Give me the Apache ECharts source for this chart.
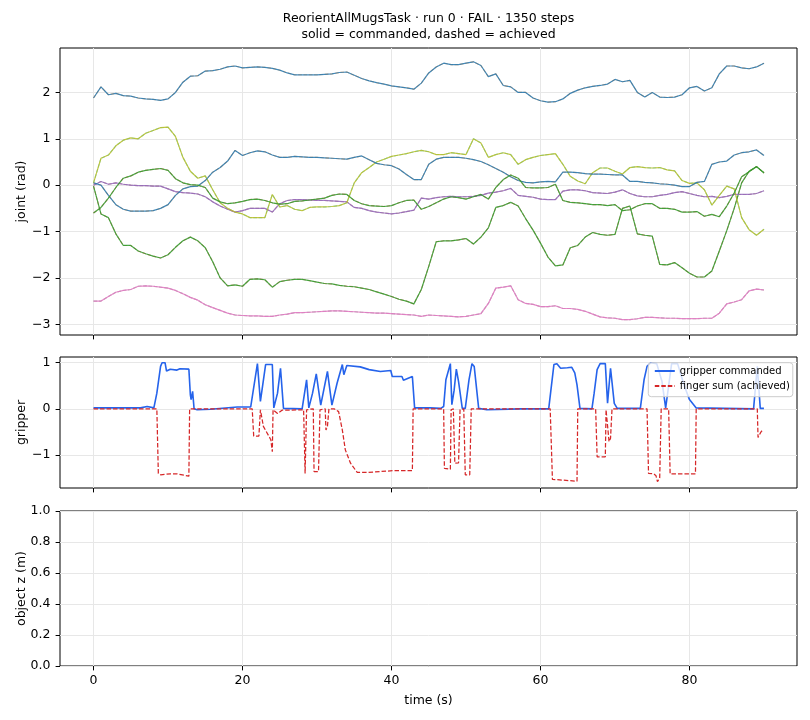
<!DOCTYPE html>
<html><head><meta charset="utf-8">
<script src="https://cdn.jsdelivr.net/npm/echarts@6/dist/echarts.min.js"></script>
<style>html,body{margin:0;padding:0;background:#fff}#c{width:810px;height:720px}</style>
</head><body><div id="c"></div><script>
// ---- data ----
const time = [0,1,2,3,4,5,6,7,8,9,10,11,12,13,14,15,16,17,18,19,20,21,22,23,24,25,26,27,28,29,30,31,32,33,34,35,36,37,38,39,40,41,42,43,44,45,46,47,48,49,50,51,52,53,54,55,56,57,58,59,60,61,62,63,64,65,66,67,68,69,70,71,72,73,74,75,76,77,78,79,80,81,82,83,84,85,86,87,88,89,90];
const joint0 = [1.88,2.12,1.95,1.98,1.93,1.92,1.88,1.86,1.85,1.83,1.86,2.0,2.22,2.35,2.36,2.46,2.47,2.5,2.55,2.57,2.53,2.54,2.55,2.54,2.52,2.48,2.42,2.38,2.38,2.38,2.38,2.39,2.4,2.43,2.44,2.37,2.3,2.25,2.21,2.18,2.14,2.12,2.1,2.07,2.2,2.42,2.55,2.63,2.6,2.6,2.63,2.66,2.58,2.34,2.4,2.15,2.12,2.0,2.0,1.88,1.82,1.79,1.8,1.86,1.98,2.05,2.1,2.13,2.15,2.18,2.28,2.23,2.26,2.0,1.9,2.0,1.9,1.89,1.9,1.95,2.1,2.13,2.03,2.1,2.4,2.57,2.57,2.53,2.51,2.55,2.63];
const joint1 = [-0.02,-0.62,-0.7,-1.05,-1.3,-1.3,-1.42,-1.48,-1.53,-1.57,-1.5,-1.34,-1.2,-1.12,-1.2,-1.35,-1.65,-2.0,-2.17,-2.15,-2.18,-2.03,-2.02,-2.04,-2.2,-2.08,-2.05,-2.03,-2.03,-2.06,-2.09,-2.12,-2.13,-2.16,-2.18,-2.19,-2.22,-2.25,-2.3,-2.35,-2.4,-2.46,-2.5,-2.56,-2.25,-1.75,-1.22,-1.2,-1.2,-1.18,-1.15,-1.27,-1.12,-0.92,-0.48,-0.44,-0.37,-0.45,-0.72,-0.97,-1.25,-1.55,-1.74,-1.72,-1.35,-1.3,-1.12,-1.02,-1.06,-1.08,-1.06,-0.5,-0.45,-1.05,-1.08,-1.1,-1.71,-1.72,-1.67,-1.78,-1.9,-1.98,-1.98,-1.85,-1.42,-0.98,-0.5,0.05,0.3,0.4,0.27];
const joint2 = [0.0,0.08,0.02,0.05,0.02,0.0,-0.01,-0.01,-0.02,-0.02,-0.08,-0.14,-0.16,-0.17,-0.19,-0.25,-0.36,-0.45,-0.52,-0.58,-0.55,-0.5,-0.5,-0.5,-0.58,-0.4,-0.33,-0.31,-0.31,-0.32,-0.33,-0.33,-0.34,-0.35,-0.36,-0.48,-0.5,-0.55,-0.58,-0.6,-0.62,-0.6,-0.57,-0.54,-0.28,-0.3,-0.27,-0.25,-0.24,-0.25,-0.25,-0.24,-0.22,-0.17,-0.15,-0.12,-0.07,-0.22,-0.24,-0.26,-0.3,-0.31,-0.31,-0.13,-0.1,-0.1,-0.12,-0.16,-0.17,-0.18,-0.15,-0.1,-0.18,-0.23,-0.25,-0.25,-0.22,-0.2,-0.16,-0.14,-0.18,-0.22,-0.25,-0.24,-0.27,-0.24,-0.2,-0.2,-0.2,-0.18,-0.12];
const joint3 = [-2.5,-2.5,-2.4,-2.31,-2.27,-2.25,-2.18,-2.17,-2.18,-2.2,-2.22,-2.27,-2.34,-2.42,-2.48,-2.58,-2.64,-2.7,-2.76,-2.8,-2.81,-2.82,-2.82,-2.83,-2.83,-2.8,-2.78,-2.75,-2.75,-2.74,-2.73,-2.72,-2.71,-2.71,-2.72,-2.73,-2.74,-2.75,-2.76,-2.76,-2.77,-2.78,-2.79,-2.8,-2.83,-2.8,-2.81,-2.82,-2.83,-2.84,-2.83,-2.8,-2.77,-2.55,-2.22,-2.2,-2.17,-2.47,-2.55,-2.57,-2.62,-2.62,-2.6,-2.66,-2.66,-2.68,-2.72,-2.78,-2.84,-2.86,-2.87,-2.9,-2.9,-2.88,-2.85,-2.85,-2.86,-2.87,-2.87,-2.88,-2.88,-2.88,-2.87,-2.87,-2.76,-2.56,-2.52,-2.47,-2.28,-2.24,-2.26];
const joint4 = [0.05,0.58,0.65,0.85,0.97,1.02,1.0,1.12,1.18,1.24,1.25,1.05,0.6,0.3,0.15,0.2,-0.1,-0.38,-0.5,-0.58,-0.62,-0.7,-0.7,-0.7,-0.2,-0.47,-0.44,-0.52,-0.55,-0.48,-0.47,-0.47,-0.46,-0.44,-0.38,0.05,0.27,0.38,0.5,0.56,0.62,0.65,0.68,0.72,0.75,0.72,0.66,0.66,0.7,0.68,0.66,1.0,0.91,0.6,0.66,0.7,0.66,0.45,0.55,0.6,0.64,0.66,0.68,0.45,0.19,0.09,0.03,0.27,0.37,0.37,0.3,0.24,0.38,0.4,0.38,0.37,0.38,0.33,0.31,0.1,0.04,0.05,-0.1,-0.43,-0.22,-0.02,-0.08,-0.7,-0.96,-1.08,-0.95];
const joint5 = [0.05,0.0,-0.22,-0.42,-0.52,-0.56,-0.56,-0.56,-0.55,-0.5,-0.42,-0.22,-0.08,-0.03,-0.02,0.1,0.28,0.38,0.52,0.75,0.64,0.7,0.74,0.72,0.65,0.6,0.6,0.62,0.61,0.6,0.6,0.59,0.58,0.57,0.56,0.6,0.63,0.55,0.47,0.44,0.42,0.35,0.23,0.12,0.12,0.45,0.56,0.6,0.6,0.6,0.58,0.55,0.51,0.44,0.36,0.28,0.18,0.1,0.06,0.05,0.07,0.08,0.07,0.28,0.28,0.27,0.25,0.24,0.24,0.23,0.22,0.22,0.08,0.08,0.06,0.05,0.03,0.02,0.0,-0.03,-0.03,0.06,0.08,0.45,0.5,0.52,0.65,0.7,0.72,0.76,0.64];
const joint6 = [-0.6,-0.48,-0.28,-0.05,0.15,0.2,0.28,0.32,0.34,0.36,0.32,0.14,0.05,0.01,0.0,-0.05,-0.28,-0.36,-0.4,-0.38,-0.35,-0.31,-0.3,-0.33,-0.38,-0.41,-0.4,-0.35,-0.34,-0.32,-0.3,-0.28,-0.22,-0.19,-0.2,-0.33,-0.4,-0.44,-0.45,-0.46,-0.44,-0.38,-0.33,-0.32,-0.52,-0.46,-0.38,-0.3,-0.25,-0.27,-0.3,-0.25,-0.2,-0.3,-0.05,0.12,0.22,0.15,-0.05,-0.06,-0.06,-0.05,0.02,-0.33,-0.37,-0.38,-0.4,-0.42,-0.42,-0.44,-0.42,-0.55,-0.53,-0.45,-0.4,-0.4,-0.5,-0.5,-0.52,-0.58,-0.58,-0.57,-0.67,-0.63,-0.68,-0.45,-0.17,0.18,0.29,0.4,0.26];

const gripT   = [0,6.3,7.2,8.1,8.5,9.0,9.2,9.6,9.8,10.3,11.2,11.6,12.8,13.0,13.1,13.3,13.5,13.9,15.7,19.3,21.1,21.3,22.0,22.4,23.1,24.0,24.2,24.7,25.1,25.5,28.0,28.6,28.9,29.4,29.9,30.5,31.4,32.0,32.7,33.4,33.6,34.0,35.8,37.0,38.5,39.9,40.1,41.4,41.6,42.8,43.1,45.2,46.6,47.0,47.3,47.5,47.9,48.1,48.4,48.7,49.0,49.5,49.9,50.4,50.8,51.1,51.7,52.8,57.3,61.1,61.8,62.2,62.7,63.6,64.2,64.6,64.9,65.3,66.9,67.2,67.6,68.0,68.7,69.0,69.4,69.9,70.3,73.4,73.9,74.3,74.8,75.6,76.3,76.8,77.2,77.6,78.4,79.3,80.0,80.9,88.6,89.1,89.5,89.99];
const gripCmd = [0.02,0.02,0.05,0.02,0.34,0.92,1.0,1.0,0.82,0.86,0.84,0.87,0.86,0.3,0.2,0.38,0.0,-0.02,-0.01,0.04,0.04,0.01,0.98,0.16,0.96,0.96,0.02,0.34,0.88,0.01,0.0,0.63,0.02,0.34,0.76,0.08,0.81,0.08,0.56,0.96,0.74,0.94,0.91,0.85,0.81,0.83,0.7,0.7,0.62,0.7,0.02,0.02,0.01,0.05,0.63,0.67,0.98,0.09,0.4,0.86,0.59,0.01,0.01,0.63,0.98,0.92,0.01,-0.02,0.0,0.0,0.96,0.98,0.88,0.89,0.9,0.78,0.52,0.01,0.0,0.34,0.85,0.98,0.98,0.12,0.88,0.12,0.01,0.01,0.63,0.92,1.0,0.98,0.6,0.02,0.5,0.98,0.98,0.5,0.2,0.02,0.0,0.92,0.01,0.01];
const fingerT   = [0,8.5,8.7,9.0,10.3,11.2,12.8,12.9,21.3,21.4,21.5,22.2,22.4,22.6,22.8,23.8,24.0,24.1,24.7,25.3,28.2,28.4,28.6,29.5,29.6,30.2,30.4,31.1,31.2,31.4,31.6,32.3,32.9,33.4,33.8,34.5,35.4,36.7,38.5,40.3,42.8,42.9,47.0,47.1,47.9,48.0,48.3,48.5,49.0,49.2,49.7,49.9,50.5,50.7,61.3,61.6,64.9,65.0,67.4,67.6,68.7,68.8,69.2,69.4,69.6,74.3,74.5,75.2,75.5,75.7,76.0,76.2,77.2,77.4,80.8,80.9,89.1,89.2,89.6,89.9];
const fingerSum = [0,0,-1.4,-1.43,-1.41,-1.41,-1.46,0,0,-0.02,-0.59,-0.59,-0.02,0,-0.38,-0.67,-0.93,-0.02,-0.1,-0.03,-0.02,-1.4,-0.02,0,-1.36,-1.36,-0.02,0,-0.46,-0.38,0,0,-0.06,-0.46,-0.89,-1.18,-1.38,-1.38,-1.36,-1.34,-1.34,0,0,-1.29,-1.31,-0.02,0,-1.18,-1.17,-0.02,0,-1.43,-1.43,0,0,-1.53,-1.57,0,0,-1.04,-1.04,-0.02,-0.71,-0.64,0,0,-1.4,-1.41,-1.45,-1.58,-1.5,0,0,-1.41,-1.41,0,0,-0.62,-0.5,-0.45];

const xTicks = [0,20,40,60,80];
const jointTicks = [-3,-2,-1,0,1,2];
const gripTicks = [-1,0,1];
const zTicks = [0,0.2,0.4,0.6,0.8,1.0];

// ---- styles ----
const FONT = 'DejaVu Sans';
const cmdColors = ['#1f77b4','#2ca02c','#9467bd','#e377c2','#bcbd22','#1f77b4','#2ca02c'];
const achColors = ['#ff7f0e','#d62728','#8c564b','#7f7f7f','#17becf','#ff7f0e','#d62728'];
const joints = [joint0, joint1, joint2, joint3, joint4, joint5, joint6];
const minus = v => String(v).replace('-', '\u2212');

function xAx(gi, showLabels, name) {
  return {
    type: 'value', gridIndex: gi, min: -4.5, max: 94.43,
    axisLine: { show: false, onZero: false },
    axisTick: { show: true, inside: false, length: 4.4, customValues: xTicks, lineStyle: { color: '#000', width: 1 } },
    axisLabel: { show: showLabels, customValues: xTicks, fontSize: 12.5, fontFamily: FONT, color: '#000', margin: 8.5, formatter: minus },
    splitLine: { show: true, lineStyle: { color: '#e7e7e7', width: 1 } },
    name: name || '', nameLocation: 'middle', nameGap: 28, nameMoveOverlap: false,
    nameTextStyle: { fontSize: 12.5, fontFamily: FONT, color: '#000' }
  };
}
function yAx(gi, min, max, ticks, name, fmt) {
  return {
    type: 'value', gridIndex: gi, min: min, max: max,
    axisLine: { show: false, onZero: false },
    axisTick: { show: true, inside: false, length: 4.4, customValues: ticks, lineStyle: { color: '#000', width: 1 } },
    axisLabel: { customValues: ticks, fontSize: 12.5, fontFamily: FONT, color: '#000', margin: 9.5, formatter: fmt || minus },
    splitLine: { show: true, lineStyle: { color: '#e7e7e7', width: 1 } },
    name: name, nameLocation: 'middle', nameGap: 32, nameMoveOverlap: false,
    nameTextStyle: { fontSize: 12.5, fontFamily: FONT, color: '#000' }
  };
}

const series = [];
// achieved (dashed) first, commanded (solid) on top
joints.forEach((vals, j) => {
  series.push({ type: 'line', name: 'joint' + j + ' ach', xAxisIndex: 0, yAxisIndex: 0, symbol: 'none',
    data: time.map((t, i) => [t, vals[i]]),
    lineStyle: { color: achColors[j], width: 1.1, type: [3.7, 1.6], opacity: 0.6 }, itemStyle: { color: achColors[j] } });
});
joints.forEach((vals, j) => {
  series.push({ type: 'line', name: 'joint' + j + ' cmd', xAxisIndex: 0, yAxisIndex: 0, symbol: 'none',
    data: time.map((t, i) => [t, vals[i]]),
    lineStyle: { color: cmdColors[j], width: 1.2, opacity: 0.85 }, itemStyle: { color: cmdColors[j] } });
});
series.push({ type: 'line', name: 'gripper commanded', xAxisIndex: 1, yAxisIndex: 1, symbol: 'none',
  data: gripT.map((t, i) => [t, gripCmd[i]]),
  lineStyle: { color: '#2563eb', width: 1.6 }, itemStyle: { color: '#2563eb' } });
series.push({ type: 'line', name: 'finger sum (achieved)', xAxisIndex: 1, yAxisIndex: 1, symbol: 'none',
  data: fingerT.map((t, i) => [t, fingerSum[i]]),
  lineStyle: { color: '#d62728', width: 1.25, type: [4.5, 2] }, itemStyle: { color: '#d62728' } });
series.push({ type: 'line', name: 'object z', xAxisIndex: 2, yAxisIndex: 2, data: [], symbol: 'none' });

const chart = echarts.init(document.getElementById('c'), null, { renderer: 'canvas' });
chart.setOption({
  animation: false,
  backgroundColor: '#fff',
  grid: [
    { left: 60, top: 48, width: 737, height: 287, show: true, borderColor: '#000', borderWidth: 1, backgroundColor: 'transparent' },
    { left: 60, top: 357, width: 737, height: 131, show: true, borderColor: '#000', borderWidth: 1, backgroundColor: 'transparent' },
    { left: 60, top: 511, width: 737, height: 155, show: true, borderColor: '#000', borderWidth: 1, backgroundColor: 'transparent' }
  ],
  xAxis: [ xAx(0, false), xAx(1, false), xAx(2, true, 'time (s)') ],
  yAxis: [
    yAx(0, -3.231, 2.958, jointTicks, 'joint (rad)'),
    yAx(1, -1.717, 1.124, gripTicks, 'gripper'),
    Object.assign(yAx(2, 0, 1, zTicks, 'object z (m)', v => v.toFixed(1)), { interval: 0.2 })
  ],
  legend: {
    data: ['gripper commanded', 'finger sum (achieved)'],
    orient: 'vertical', left: 648.3, top: 362.7,
    itemWidth: 20, itemHeight: 10, itemGap: 5,
    padding: [3.3, 3, 5.7, 5.5],
    itemStyle: { opacity: 0 },
    backgroundColor: 'rgba(255,255,255,0.8)', borderColor: '#cccccc', borderWidth: 1, borderRadius: 3,
    textStyle: { fontSize: 10, fontFamily: FONT, color: '#000' }
  },
  graphic: [
    { type: 'text', x: 428.5, y: 19, style: { text: 'ReorientAllMugsTask · run 0 · FAIL · 1350 steps', font: '12.5px "DejaVu Sans"', fill: '#000', textAlign: 'center', textVerticalAlign: 'middle' } },
    { type: 'text', x: 428.5, y: 34.7, style: { text: 'solid = commanded, dashed = achieved', font: '12.5px "DejaVu Sans"', fill: '#000', textAlign: 'center', textVerticalAlign: 'middle' } }
  ],
  series: series
});
</script></body></html>
